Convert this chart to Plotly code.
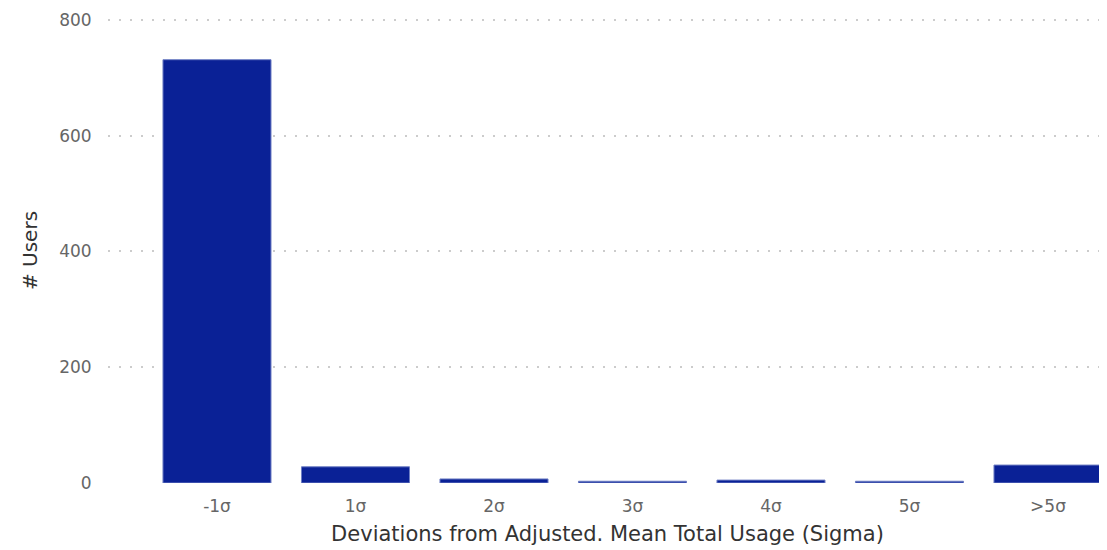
import plotly.graph_objects as go

categories = ["-1σ", "1σ", "2σ", "3σ", "4σ", "5σ", ">5σ"]
users = [731, 28, 7, 3, 5, 3, 31]
y_ticks = [0, 200, 400, 600, 800]

fig = go.Figure(go.Bar(
    x=categories, y=users,
    marker=dict(color="#0A2196", line=dict(color="#6F7FC4", width=1)),
    width=0.78,
))

# page body has an 8px margin, so the figure is sized/offset to compensate
fig.update_layout(
    width=1099, height=542,
    margin=dict(l=100, r=0, t=10, b=67),
    plot_bgcolor="white", paper_bgcolor="white",
    font=dict(family="DejaVu Sans, sans-serif"),
    showlegend=False,
)
fig.update_xaxes(
    type="category", range=[-0.787, 6.426], automargin=False,
    showgrid=False, zeroline=False, showline=False,
    tickfont=dict(size=17, color="#666666"),
    title=dict(text="Deviations from Adjusted. Mean Total Usage (Sigma)",
               font=dict(size=21, color="#333333"), standoff=10),
    ticks="outside", ticklen=8, tickcolor="white",
)
fig.update_yaxes(
    range=[0, 803], tickvals=y_ticks, automargin=False,
    ticklabeloverflow="allow",
    showgrid=True, gridcolor="#CCCCCC", griddash="2px,9px", gridwidth=1.5,
    zeroline=False, showline=False,
    tickfont=dict(size=17, color="#666666"),
    ticks="outside", ticklen=12, tickcolor="white",
    title=dict(text="# Users", font=dict(size=20, color="#333333"), standoff=16),
)

fig.write_html("out.html")
